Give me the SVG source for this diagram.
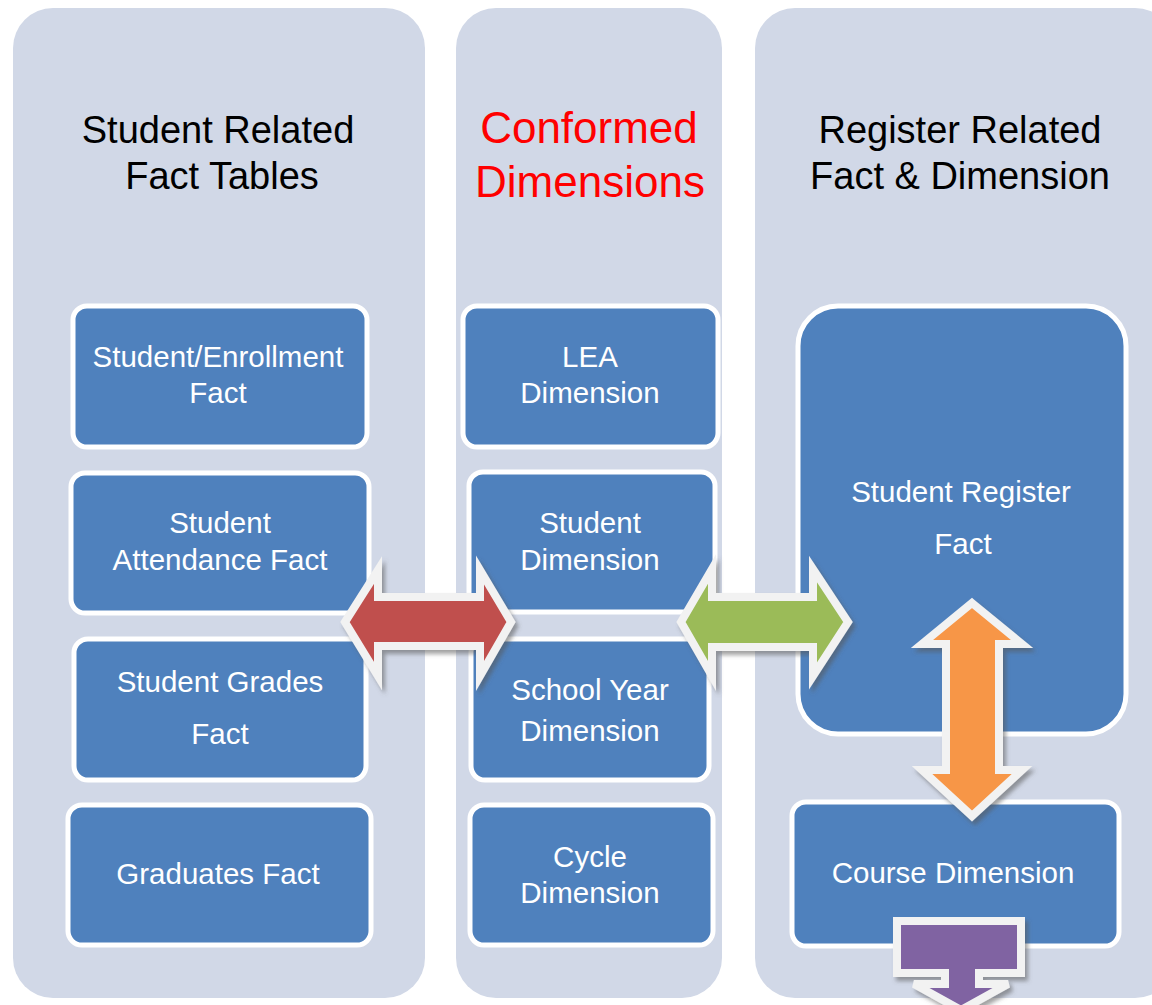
<svg xmlns="http://www.w3.org/2000/svg" width="1152" height="1005" viewBox="0 0 1152 1005">
<defs>
<filter id="sh" x="-20%" y="-20%" width="140%" height="140%">
<feDropShadow dx="3" dy="4" stdDeviation="2" flood-color="#555" flood-opacity="0.55"/>
</filter>
<style>
.panel{fill:#d1d8e7}
.node{fill:#4f81bd;stroke:#ffffff;stroke-width:5}
.nt{font-family:"Liberation Sans",Arial,sans-serif;font-size:29.5px;fill:#ffffff;text-anchor:middle}
.title{font-family:"Liberation Sans",Arial,sans-serif;font-size:38px;fill:#000000;text-anchor:middle}
.red{font-family:"Liberation Sans",Arial,sans-serif;font-size:44px;fill:#ff0000;text-anchor:middle}
.arr{stroke:#f2f2f2;stroke-width:8;stroke-linejoin:miter;filter:url(#sh)}
</style>
</defs>
<rect width="1152" height="1005" fill="#ffffff"/>
<g id="panels">
<rect class="panel" x="13" y="8" width="412" height="990" rx="40"/>
<rect class="panel" x="456" y="8" width="266" height="990" rx="40"/>
<rect class="panel" x="755" y="8" width="420" height="990" rx="40"/>
</g>
<g id="titles">
<text class="title" x="218" y="143">Student Related</text>
<text class="title" x="222" y="189">Fact Tables</text>
<text class="red" x="589" y="143">Conformed</text>
<text class="red" x="590" y="197">Dimensions</text>
<text class="title" x="960" y="143">Register Related</text>
<text class="title" x="960" y="189">Fact &amp; Dimension</text>
</g>
<g id="n-enrollment"><rect class="node" x="73" y="306" width="294" height="141" rx="14"/><text class="nt" x="218" y="367">Student/Enrollment</text><text class="nt" x="218" y="403">Fact</text></g>
<g id="n-attendance"><rect class="node" x="71" y="473" width="298" height="140" rx="14"/><text class="nt" x="220" y="533">Student</text><text class="nt" x="220" y="570">Attendance Fact</text></g>
<g id="n-grades"><rect class="node" x="74" y="639" width="292" height="141" rx="14"/><text class="nt" x="220" y="692">Student Grades</text><text class="nt" x="220" y="744">Fact</text></g>
<g id="n-graduates"><rect class="node" x="68" y="805" width="303" height="140" rx="14"/><text class="nt" x="218" y="884">Graduates Fact</text></g>
<g id="n-lea"><rect class="node" x="463" y="306" width="255" height="141" rx="14"/><text class="nt" x="590" y="367">LEA</text><text class="nt" x="590" y="403">Dimension</text></g>
<g id="n-student"><rect class="node" x="469" y="472" width="246" height="140" rx="14"/><text class="nt" x="590" y="533">Student</text><text class="nt" x="590" y="570">Dimension</text></g>
<g id="n-schoolyear"><rect class="node" x="471" y="639" width="238" height="141" rx="14"/><text class="nt" x="590" y="700">School Year</text><text class="nt" x="590" y="741">Dimension</text></g>
<g id="n-cycle"><rect class="node" x="470" y="805" width="243" height="140" rx="14"/><text class="nt" x="590" y="867">Cycle</text><text class="nt" x="590" y="903">Dimension</text></g>
<g id="n-register"><rect class="node" x="798" y="306" width="328" height="428" rx="40"/><text class="nt" x="961" y="502">Student Register</text><text class="nt" x="963" y="554">Fact</text></g>
<g id="n-course"><rect class="node" x="792" y="802" width="327" height="144" rx="14"/><text class="nt" x="953" y="883">Course Dimension</text></g>
<g id="connectors">
<path class="arr" fill="#c0504d" d="M345,622 L378,570 L378,597 L480,597 L480,570 L511,622 L480,676 L480,646 L378,646 L378,676 Z"/>
<path class="arr" fill="#9bbb59" d="M681,622 L712,569 L712,597 L813,597 L813,569 L848,622 L813,676 L813,647 L712,647 L712,676 Z"/>
<path class="arr" fill="#f79646" d="M972,603 L1022,644 L999,644 L999,770 L1022,770 L972,816 L922,770 L946,770 L946,644 L922,644 Z"/>
<path class="arr" fill="#8064a2" d="M897,921 L1021,921 L1021,973 L979,973 L979,984 L1008,984 L961,1010 L914,984 L945,984 L945,973 L897,973 Z"/>
</g>
</svg>
